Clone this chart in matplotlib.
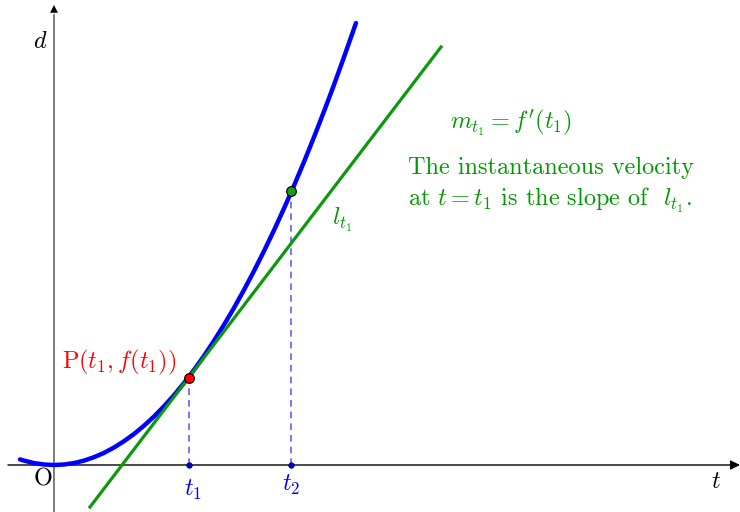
import numpy as np
import matplotlib.pyplot as plt

plt.rcParams['mathtext.fontset'] = 'cm'
plt.rcParams['font.family'] = ['cmr10', 'DejaVu Serif']

# position d(t)
t_vals = [-0.34, -0.3, -0.2, -0.1, 0.0, 0.1, 0.2, 0.3, 0.4, 0.5, 0.6, 0.7, 0.8,
          0.9, 1.0, 1.1, 1.2, 1.3, 1.4, 1.5, 1.6, 1.7, 1.8, 1.9, 2.0, 2.1, 2.2,
          2.3, 2.4, 2.5, 2.6, 2.7, 2.8, 2.9, 3.02]
d_vals = [0.056, 0.044, 0.019, 0.005, 0.0, 0.005, 0.019, 0.044, 0.078, 0.121,
          0.175, 0.238, 0.310, 0.393, 0.485, 0.587, 0.698, 0.820, 0.951, 1.091,
          1.242, 1.402, 1.571, 1.751, 1.940, 2.139, 2.347, 2.566, 2.794, 3.031,
          3.279, 3.536, 3.802, 4.079, 4.42]

# tangent line l_t1
tan_t = [0.36, 3.87]
tan_d = [-0.42, 4.18]

t1, d1 = 1.35, 0.87
t2, d2 = 2.37, 2.74

fig = plt.figure(figsize=(7.4, 5.12), dpi=100)
ax = fig.add_axes([0, 0, 1, 1])
ax.set_xlim(-0.54, 6.86)
ax.set_ylim(-0.47, 4.65)
ax.axis('off')

# axes with arrows
ax.annotate('', xy=(6.86, 0), xytext=(-0.46, 0),
            arrowprops=dict(arrowstyle='-|>', color='black', lw=1,
                            mutation_scale=14, shrinkA=0, shrinkB=0))
ax.plot([0, 0], [-0.47, 4.5], color='#666666', lw=1.2)
ax.annotate('', xy=(0, 4.60), xytext=(0, 4.3),
            arrowprops=dict(arrowstyle='-|>', color='black', lw=0.01,
                            mutation_scale=14, shrinkA=0, shrinkB=0))

blue = '#0000ff'
green = '#009900'

ax.plot(t_vals, d_vals, color=blue, lw=3.2, solid_capstyle='round', zorder=3)
ax.plot(tan_t, tan_d, color='#0b990b', lw=2.3, zorder=4)

# dashed drops
ax.plot([t1, t1], [0, d1], color='#6060ff', lw=1.2, dashes=(4, 3), zorder=2)
ax.plot([t2, t2], [0, d2], color='#6060ff', lw=1.2, dashes=(4, 3), zorder=2)

ax.plot([t1], [d1], 'o', color='#ff0000', mec='black', mew=0.8, ms=7, zorder=6)
ax.plot([t2], [d2], 'o', color='#1a991a', mec='black', mew=0.8, ms=7, zorder=6)
ax.plot([t1, t2], [0, 0], 'o', color='#0000cc', mec='#000066', mew=0.5, ms=4, zorder=6)

fs = 17.5
ax.text(-0.14, 4.23, r'$d$', fontsize=fs, ha='center', va='center')
ax.text(6.62, -0.17, r'$t$', fontsize=fs, ha='center', va='center')
ax.text(-0.11, -0.14, 'O', fontsize=fs, ha='center', va='center')
ax.text(t1 + 0.04, -0.25, r'$t_1$', fontsize=fs, color=blue, ha='center', va='center')
ax.text(t2, -0.20, r'$t_2$', fontsize=fs, color=blue, ha='center', va='center')
ax.text(0.08, 1.03, r'$\mathrm{P}(t_1,f(t_1))$', fontsize=fs, color='#ff0000',
        ha='left', va='center')
ax.text(2.78, 2.45, r'$l_{t_1}$', fontsize=fs, color=green, ha='left', va='center')
ax.text(3.96, 3.42, r"$m_{t_1}=f'(t_1)$", fontsize=fs, color=green, ha='left', va='center')
ax.text(3.54, 2.97, 'The instantaneous velocity', fontsize=fs, color=green,
        ha='left', va='center')
ax.text(3.54, 2.65, r'at $t=t_1$ is the slope of  $l_{t_1}$.', fontsize=fs,
        color=green, ha='left', va='center')

fig.savefig('out.png', dpi=100)
